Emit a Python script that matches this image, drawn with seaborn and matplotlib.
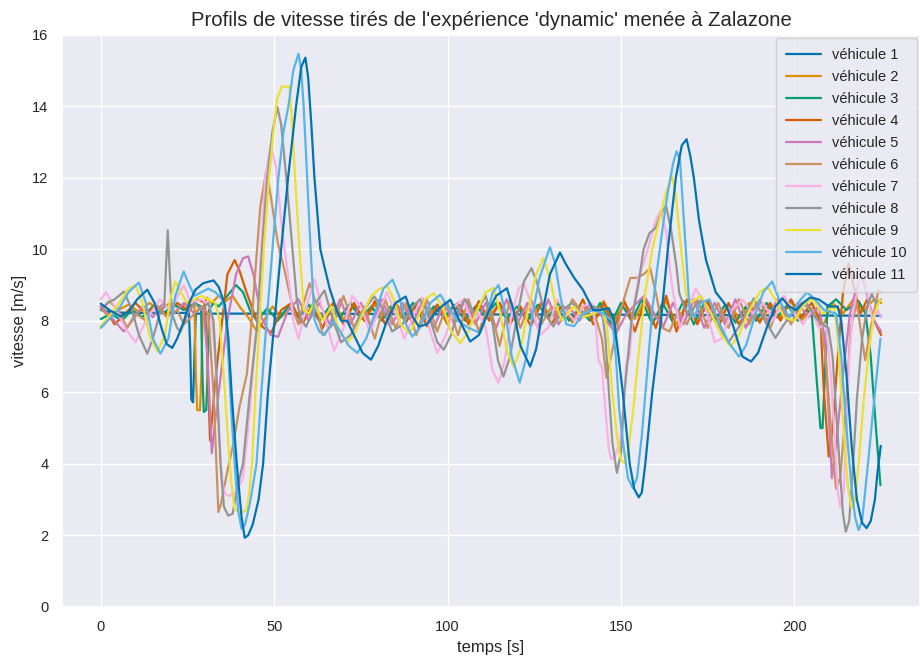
import matplotlib
matplotlib.use("Agg")
import matplotlib.pyplot as plt
import seaborn as sns
import pandas as pd

# (time [s], speed [m/s]) samples, one list per vehicle
veh1 = [(0, 8.3), (3, 8.24), (8, 8.22), (25.4, 8.22), (25.8, 7.2), (26.1, 5.8), (26.6, 5.72),
        (27.0, 7.0), (27.4, 8.2), (60, 8.2), (100, 8.18), (150, 8.17), (200, 8.15), (225, 8.14)]

veh2 = [(0, 8.3), (2.5, 8.55), (5, 8.3), (8, 8.45), (11, 8.25), (14, 8.5), (17, 8.3), (20, 8.5),
        (23, 8.35), (25.5, 8.55), (27.0, 8.4), (27.4, 6.5), (27.8, 5.5), (28.6, 5.5), (29.0, 6.5),
        (29.4, 8.3), (30.5, 8.65), (32, 8.5), (34, 8.7), (36, 8.55), (38, 8.7), (40, 8.4),
        (42.5, 8.1), (45, 7.7), (47, 8.0), (49.5, 8.4), (52, 8.1), (55, 8.4), (58, 8.0),
        (61, 8.45), (64, 8.1), (67, 8.5), (70, 8.05), (73, 8.4), (76, 8.0), (79, 8.45), (82, 8.1),
        (85, 8.5), (88, 8.1), (91, 8.4), (94, 8.0), (97, 8.45), (100, 8.1), (103, 8.5), (106, 8.0),
        (109, 8.4), (112, 8.1), (115, 8.5), (118, 8.0), (121, 8.35), (124, 8.05), (127, 8.5),
        (130, 8.1), (133, 8.45), (136, 7.95), (139, 8.4), (142, 8.05), (145, 8.55), (148, 8.0),
        (151, 8.5), (154, 8.05), (157, 8.6), (160, 8.1), (163, 8.55), (166, 7.9), (169, 8.45),
        (172, 7.95), (175, 8.5), (178, 8.0), (181, 8.45), (184, 8.1), (187, 8.5), (190, 8.0),
        (193, 8.4), (196, 8.1), (199, 8.55), (202, 8.0), (205, 8.35), (208, 7.8), (211, 8.5),
        (214, 8.2), (217, 8.6), (220, 8.3), (223, 8.6), (225, 8.5)]

veh3 = [(0, 8.05), (3, 8.2), (6, 8.0), (9, 8.3), (12, 8.1), (15, 8.4), (18, 8.2), (21, 8.45),
        (24, 8.3), (27, 8.5), (28.9, 8.4), (29.3, 6.5), (29.7, 5.45), (30.4, 5.5), (30.8, 6.5),
        (31.2, 8.3), (32.5, 8.5), (34, 8.4), (36.5, 8.7), (39, 9.0), (41, 8.8), (43, 8.3),
        (45, 8.0), (48, 8.35), (51, 8.0), (54, 8.4), (57, 8.1), (60, 8.45), (63, 8.0), (66, 8.4),
        (69, 8.1), (72, 8.5), (75, 8.05), (78, 8.4), (81, 8.0), (84, 8.45), (87, 8.1), (90, 8.5),
        (93, 8.0), (96, 8.4), (99, 8.1), (102, 8.45), (105, 8.0), (108, 8.4), (111, 8.15),
        (114, 8.5), (117, 8.05), (120, 8.4), (123, 8.0), (126, 8.45), (129, 8.1), (132, 8.5),
        (135, 8.0), (138, 8.35), (141, 8.0), (144, 8.5), (147, 7.9), (150, 8.5), (153, 8.0),
        (156, 8.6), (159, 7.9), (162, 8.5), (165, 7.95), (168, 8.55), (171, 7.9), (174, 8.5),
        (177, 8.0), (180, 8.45), (183, 7.95), (186, 8.4), (189, 8.0), (192, 8.5), (195, 8.1),
        (198, 8.45), (201, 8.0), (203.5, 8.3), (205, 8.2), (206.3, 6.5), (207.5, 5.0),
        (208.1, 5.0), (208.8, 6.5), (209.5, 8.4), (212, 8.6), (215, 8.3), (218.5, 8.55),
        (220.5, 8.2), (222, 7.0), (223.5, 5.0), (224.8, 3.4)]

veh4 = [(0, 8.4), (2, 8.2), (4, 7.9), (7, 8.2), (10, 8.5), (13, 8.2), (16, 8.45), (19, 8.15),
        (22, 8.5), (25, 8.3), (28, 8.6), (30, 8.5), (30.7, 7.0), (31.5, 4.65), (32.3, 5.5),
        (33.2, 6.5), (35, 8.0), (36.5, 9.3), (38.6, 9.7), (40, 9.4), (42, 8.8), (45, 8.0),
        (47, 7.8), (49.2, 7.67), (52, 8.3), (55, 8.5), (58, 7.9), (61, 8.4), (64, 7.8), (67, 8.5),
        (70, 7.9), (73, 8.5), (76, 8.0), (79, 8.55), (82, 7.9), (85, 8.4), (88, 7.95), (91, 8.5),
        (94, 7.85), (97, 8.45), (100, 7.9), (103, 8.5), (106, 7.9), (109, 8.55), (112, 8.0),
        (115, 8.5), (118, 7.9), (121, 8.4), (124, 7.85), (127, 8.5), (130, 7.9), (133, 8.45),
        (136, 8.0), (139, 8.6), (142, 7.9), (145, 8.5), (148, 7.8), (151, 8.55), (154, 7.7),
        (157, 8.6), (160, 7.8), (163, 8.7), (166, 7.7), (169, 8.6), (172, 7.9), (175, 8.55),
        (178, 7.8), (181, 8.5), (184, 7.9), (187, 8.4), (190, 7.95), (193, 8.5), (196, 8.0),
        (199, 8.6), (202, 8.1), (205, 8.5), (207.5, 8.0), (208.5, 6.0), (209.9, 4.2), (211, 5.0),
        (212.5, 7.0), (214, 8.8), (215.6, 9.6), (217, 9.0), (219, 8.2), (221, 8.6), (223, 8.0),
        (225, 7.6)]

veh5 = [(0, 8.4), (3, 8.1), (6.6, 7.7), (9, 8.0), (12, 8.4), (15, 8.1), (18, 8.5), (21, 8.2),
        (24, 8.5), (27, 8.2), (29.5, 8.4), (30.8, 7.0), (32, 4.3), (33, 5.2), (34, 6.0),
        (36.5, 8.0), (39, 9.3), (41, 9.75), (42.5, 9.8), (44, 9.3), (46.3, 8.1), (49, 7.6),
        (51.1, 7.55), (54, 8.3), (57, 8.6), (60, 8.0), (63, 8.5), (66, 7.9), (69, 8.6), (72, 7.9),
        (75, 8.5), (78, 7.8), (81, 8.6), (84, 7.9), (87, 8.5), (90, 7.9), (93, 8.6), (96, 7.8),
        (99, 8.5), (102, 7.9), (105, 8.6), (108, 7.9), (111, 8.5), (114, 7.8), (117, 8.6),
        (120, 7.9), (123, 8.5), (126, 7.8), (129, 8.6), (132, 7.9), (135, 8.4), (138, 8.0),
        (141, 8.5), (144, 8.2), (146.5, 7.9), (148.6, 7.65), (151, 8.1), (153.5, 8.4),
        (156.7, 8.7), (159, 8.3), (162, 7.8), (165, 8.5), (168, 7.9), (171, 8.6), (174, 7.8),
        (177, 8.5), (180, 7.9), (183, 8.6), (186, 7.8), (189, 8.5), (192, 7.9), (195, 8.6),
        (198, 8.0), (201, 8.5), (204, 8.1), (207, 8.4), (208.8, 7.5), (209.8, 5.5), (210.8, 3.6),
        (212, 4.5), (214, 6.5), (216, 8.2), (217.8, 8.9), (219.4, 9.25), (221, 8.7), (223, 8.0),
        (225, 7.7)]

veh6 = [(0, 8.35), (2.5, 8.1), (5, 8.3), (7.6, 7.8), (10, 8.2), (13, 8.0), (16, 8.45), (19, 8.1),
        (22, 8.3), (24, 7.9), (27, 8.2), (29, 8.4), (31, 8.2), (32.5, 6.0), (33.9, 2.65),
        (34.7, 2.9), (36.5, 3.8), (38.3, 4.6), (40, 5.6), (42.1, 6.5), (43.5, 8.0), (44.5, 9.3),
        (46, 11.2), (47.7, 12.2), (49, 11.5), (51, 10.2), (53, 9.4), (54, 8.95), (55.5, 8.3),
        (57, 7.9), (58.5, 8.5), (60.2, 9.05), (62, 8.5), (64, 7.6), (67, 7.9), (70, 8.7),
        (73, 7.8), (76, 8.4), (79, 7.5), (82, 8.6), (85, 7.8), (88, 8.5), (91, 7.6), (94, 8.6),
        (97, 7.7), (100, 8.5), (103, 7.6), (106, 8.6), (109, 7.7), (112, 8.5), (115, 7.3),
        (118, 8.6), (121, 7.8), (124, 8.6), (127, 7.9), (130, 8.4), (133, 8.0), (136, 8.6),
        (139, 8.2), (141.5, 8.4), (143, 8.0), (144.5, 7.5), (145.8, 6.4), (148, 7.4), (150.5, 8.5),
        (152.7, 9.2), (154.6, 9.2), (156.5, 9.3), (158.4, 9.47), (160, 8.8), (162, 7.8),
        (164, 7.7), (166.5, 8.3), (169, 7.9), (172, 8.6), (175, 7.8), (178, 8.5), (181, 7.8),
        (184, 8.6), (187, 7.9), (190, 8.6), (193, 7.8), (196, 8.5), (199, 7.9), (202, 8.5),
        (205, 8.3), (207.5, 7.9), (209, 7.0), (210.5, 5.0), (212, 3.3), (213.2, 3.6),
        (214.8, 5.5), (216.2, 7.8), (218, 8.5), (219.3, 7.6), (220.4, 6.9), (222, 7.8),
        (224.2, 8.85), (225, 8.8)]

veh7 = [(0, 8.6), (1.5, 8.8), (4, 8.4), (7, 7.8), (10, 7.4), (13, 8.0), (17, 8.6), (20, 8.3),
        (23.9, 9.0), (26, 8.5), (29, 8.6), (31.5, 8.4), (33, 7.0), (34, 5.0), (35, 3.5),
        (35.9, 3.15), (37, 3.1), (39, 3.2), (41, 3.6), (43, 5.5), (44.5, 7.5), (45.3, 8.0),
        (46.2, 10.0), (47.4, 12.0), (49, 12.93), (50.5, 12.3), (52, 10.8), (53, 10.0),
        (54.5, 8.9), (55.5, 8.0), (57, 7.5), (59, 8.3), (61.6, 9.16), (64, 8.3), (67.3, 7.16),
        (70, 7.8), (72.5, 8.7), (75, 8.4), (77.5, 7.7), (80, 8.2), (82.5, 8.8), (85, 8.2),
        (87.5, 7.5), (90, 8.1), (92.5, 8.65), (95, 7.7), (97, 7.1), (99.5, 7.6), (102, 8.4),
        (104.5, 8.6), (107, 8.0), (109, 8.2), (111, 7.8), (113, 6.6), (114.7, 6.27), (116.5, 6.9),
        (118.5, 8.2), (120.5, 8.9), (122, 9.05), (124, 8.5), (126.5, 7.6), (129, 7.8),
        (131.5, 8.6), (134, 8.3), (136.5, 8.0), (139, 8.4), (141.5, 8.5), (142.8, 7.8),
        (143.5, 6.9), (144.5, 6.7), (145.5, 5.5), (146.5, 4.4), (147.2, 4.13), (148.2, 4.2),
        (149.7, 4.6), (151, 6.0), (151.5, 6.8), (152.5, 7.0), (153.4, 8.2), (155, 9.2),
        (156.5, 9.6), (158, 10.1), (160, 10.8), (161.5, 11.1), (163, 10.5), (164, 9.5),
        (165, 8.8), (167, 7.8), (169, 8.3), (171.5, 8.9), (174, 8.5), (177, 7.4), (179, 7.5),
        (182, 8.3), (185, 8.6), (188, 8.2), (191, 8.5), (194, 8.0), (197, 8.7), (200, 8.2),
        (202.5, 7.9), (205, 8.3), (207, 7.8), (209, 7.9), (210.5, 6.5), (211.7, 4.5),
        (212.5, 3.2), (213.2, 2.8), (214.2, 3.2), (215, 5.0), (215.8, 7.0), (216.8, 8.2),
        (218.5, 9.0), (219.8, 9.5), (221, 8.8), (222.5, 8.0), (224, 8.3), (225, 8.1)]

veh8 = [(0, 8.3), (2, 8.5), (4, 8.6), (6.7, 8.82), (9, 8.3), (11, 7.6), (13.4, 7.08), (15, 7.5),
        (17, 8.2), (18.3, 8.4), (18.8, 9.5), (19.3, 10.53), (19.8, 9.5), (20.5, 8.2), (22, 7.8),
        (23, 7.7), (25, 8.2), (27, 8.5), (29, 8.3), (31, 8.5), (32.5, 8.0), (33.5, 6.2),
        (34.5, 4.0), (35.5, 2.8), (36.7, 2.55), (38, 2.6), (39.5, 3.4), (41, 4.0), (43, 6.0),
        (45, 7.8), (46.5, 10.0), (48, 12.0), (49.5, 13.3), (50.9, 13.98), (52, 13.5),
        (53.5, 12.0), (55, 10.3), (56.5, 8.6), (57.5, 8.1), (59.2, 7.83), (62, 8.5), (64.5, 8.85),
        (67, 8.0), (69.3, 7.4), (72, 7.6), (75, 8.2), (78.8, 8.68), (81, 8.4), (84, 7.7),
        (87, 7.9), (90, 8.4), (92, 8.6), (94.5, 8.2), (97, 7.4), (98.9, 7.19), (101, 7.6),
        (103, 8.3), (105, 8.6), (108, 8.2), (111, 8.7), (113, 7.9), (114.5, 6.9), (116.1, 6.44),
        (118, 7.0), (120, 8.1), (122, 9.1), (124.2, 9.47), (126, 9.0), (128, 8.2), (130.5, 7.84),
        (133, 8.3), (136, 8.5), (139, 8.1), (142, 8.4), (144.5, 8.3), (145.5, 7.5), (146.5, 6.0),
        (147.5, 4.6), (148.8, 3.75), (150, 4.3), (151, 6.0), (152, 7.0), (153, 8.0), (155, 9.0),
        (156.5, 10.0), (158.2, 10.45), (160, 10.6), (161.5, 11.0), (163, 11.22), (164.5, 10.5),
        (166, 9.5), (166.8, 8.77), (169, 8.2), (173.5, 8.6), (177, 8.0), (181, 7.4),
        (184.5, 7.9), (188.3, 8.63), (191, 8.1), (194.5, 7.52), (197, 7.9), (200, 8.3),
        (203.2, 8.55), (206, 8.1), (208, 7.9), (209.8, 7.8), (211, 7.0), (212, 5.5), (213, 4.0),
        (214, 2.6), (214.8, 2.1), (215.8, 2.4), (216.8, 3.8), (218, 5.8), (219.5, 7.5),
        (221, 8.4), (222.3, 8.75), (223.5, 8.5), (225, 8.6)]

veh9 = [(0, 7.85), (3, 8.2), (6, 8.6), (8, 8.9), (10, 9.0), (12, 8.5), (14, 7.6), (16.3, 7.14),
        (18.5, 7.6), (20, 8.6), (21.5, 9.1), (23, 8.8), (25, 8.5), (27, 8.6), (29, 8.7),
        (31, 8.6), (33, 8.5), (34.3, 8.0), (35, 7.0), (35.8, 6.0), (36.6, 4.8), (37.5, 3.6),
        (38.5, 2.75), (40, 2.62), (42, 2.7), (42.8, 3.2), (43.6, 4.0), (44.6, 6.0), (45.8, 8.0),
        (47, 10.0), (48.5, 12.0), (50, 13.5), (50.8, 14.2), (52.2, 14.55), (54.4, 14.55),
        (55.2, 13.5), (56, 12.0), (57.3, 10.0), (58.5, 8.3), (60, 8.2), (61.5, 8.5), (64, 8.0),
        (66.5, 8.4), (68.5, 7.8), (71, 7.4), (73, 7.6), (75.5, 8.2), (78, 8.7), (80.5, 8.9),
        (82.6, 8.96), (84.5, 8.6), (86.5, 7.9), (88.9, 7.66), (91, 8.0), (93.5, 8.6), (96, 8.77),
        (98.5, 8.4), (101, 7.7), (103.7, 7.38), (106, 7.7), (108.5, 8.3), (111, 8.8),
        (113.2, 8.92), (115, 8.3), (117, 7.2), (119, 6.72), (121, 7.2), (123, 8.2), (125.5, 9.3),
        (127.6, 9.76), (129.5, 9.2), (131, 8.5), (133, 8.0), (136.4, 8.4), (139, 8.1),
        (142, 8.2), (144.5, 8.3), (146, 7.8), (147.5, 6.0), (149, 4.6), (150, 4.1), (151, 4.02),
        (152, 4.3), (153.5, 5.5), (155, 7.0), (157, 8.8), (159, 10.0), (161, 10.8), (163, 11.6),
        (164.7, 12.04), (165.8, 11.5), (167, 10.3), (168.7, 8.77), (170, 8.5), (173, 8.7),
        (176, 8.2), (179, 7.6), (181.6, 7.28), (184, 7.6), (187, 8.3), (190, 8.8),
        (192.2, 8.95), (194.5, 8.6), (197, 8.1), (200, 8.0), (203, 8.5), (205.5, 8.6),
        (208, 8.2), (211.5, 8.4), (212.5, 7.5), (213.5, 6.0), (214.5, 4.5), (215.5, 3.3),
        (216.5, 2.76), (217.5, 3.0), (218.5, 4.0), (220, 5.8), (221.5, 7.2), (223, 8.2),
        (224.8, 8.6)]

veh10 = [(0, 7.8), (2, 8.0), (5, 8.3), (8, 8.8), (11, 9.07), (13, 8.5), (15, 7.5), (17.2, 7.08),
         (19.5, 7.5), (21.5, 8.7), (23.9, 9.38), (25.5, 9.0), (27, 8.7), (29, 8.8), (31, 8.9),
         (33, 8.8), (35, 8.6), (36, 8.2), (36.8, 7.0), (37.6, 5.5), (38.6, 4.0), (39.6, 2.7),
         (40.6, 2.18), (41.6, 2.3), (43, 2.9), (44.9, 4.0), (46.3, 6.0), (47.8, 8.0), (49.5, 10.0),
         (51.2, 12.0), (52.7, 13.3), (54.1, 14.0), (55.5, 15.0), (57, 15.47), (57.8, 15.0),
         (58.5, 14.0), (59.5, 12.0), (60.5, 10.0), (61.6, 8.03), (63, 7.7), (64.5, 7.6), (67, 8.0),
         (69, 7.7), (71.5, 7.3), (74, 7.1), (76.5, 7.5), (79, 8.2), (81.5, 8.9), (84.1, 9.15),
         (86, 8.7), (88, 7.9), (89.8, 7.56), (92, 7.8), (95, 8.5), (97.9, 8.73), (100, 8.4),
         (103, 8.0), (106, 7.8), (109.4, 7.66), (111.5, 8.2), (113, 8.8), (114.7, 9.0),
         (116.5, 8.3), (118.5, 7.0), (120.8, 6.27), (122.5, 6.9), (124.5, 8.2), (126.5, 9.2),
         (129.5, 10.06), (131, 9.6), (132.5, 8.7), (134.2, 7.9), (136.5, 7.85), (139, 8.2),
         (142, 8.3), (145, 8.2), (147.5, 8.0), (148.5, 7.0), (149.5, 5.5), (150.7, 4.5),
         (152, 3.6), (153.4, 3.32), (154.6, 3.6), (156, 4.8), (157.5, 6.5), (159, 8.3),
         (160.5, 9.5), (162, 10.6), (163.5, 11.6), (165, 12.4), (166, 12.74), (167, 12.5),
         (168, 11.0), (169, 9.5), (169.7, 8.4), (171, 8.1), (173, 8.5), (175.5, 8.6), (178, 8.0),
         (181, 7.4), (184, 7.0), (186, 7.3), (188.5, 8.1), (191, 8.8), (193.6, 9.1), (196, 8.5),
         (198.5, 8.1), (201, 8.5), (203.6, 8.8), (206, 8.6), (208.5, 8.3), (212, 8.2),
         (213.5, 7.0), (215, 5.0), (216.5, 3.3), (217.5, 2.5), (218.5, 2.15), (219.5, 2.4),
         (221, 3.8), (222.5, 5.3), (224.8, 7.5)]

veh11 = [(0, 8.48), (2.5, 8.3), (5.7, 8.12), (8, 8.25), (10.5, 8.6), (13.4, 8.87), (15.5, 8.5),
         (17.5, 7.8), (19, 7.35), (20.6, 7.24), (22, 7.5), (24, 8.0), (25.5, 8.5), (27.3, 8.87),
         (29.5, 9.05), (32.5, 9.13), (34, 8.95), (35.8, 8.44), (36.8, 7.5), (37.7, 6.0),
         (39.2, 4.0), (40.6, 2.5), (41.5, 1.93), (42.5, 2.0), (43.8, 2.3), (45.5, 3.0),
         (46.8, 4.0), (48.2, 6.0), (50.1, 8.0), (52, 10.0), (54, 12.0), (56.3, 14.0),
         (57.8, 15.1), (59, 15.36), (59.8, 14.8), (60.7, 13.5), (61.6, 12.0), (63.3, 10.0),
         (64.5, 9.5), (66, 8.9), (68, 8.3), (69.3, 8.0), (71, 8.0), (73, 7.6), (75.5, 7.1),
         (77.9, 6.91), (80, 7.3), (82.5, 8.0), (85, 8.5), (87.9, 8.68), (90, 8.1), (91.7, 7.84),
         (94, 7.9), (97, 8.3), (100.8, 8.59), (103, 8.1), (106.5, 7.42), (109, 7.6), (111.5, 8.2),
         (114, 8.7), (117.1, 8.91), (119, 8.3), (121, 7.3), (123.8, 6.72), (125.5, 7.2),
         (127.5, 8.3), (129.5, 9.3), (132.4, 9.91), (134, 9.6), (136.5, 9.2), (139, 8.87),
         (142, 8.3), (144, 8.3), (146.5, 8.35), (148, 8.0), (149.3, 7.0), (150.5, 6.0),
         (152.5, 4.0), (153.8, 3.3), (155.1, 3.06), (156, 3.2), (157, 4.0), (159, 6.0),
         (161.5, 8.0), (163.5, 10.0), (165.8, 12.0), (167.5, 12.9), (168.9, 13.08), (170, 12.6),
         (171, 12.0), (172.5, 10.8), (174.5, 9.7), (177.3, 8.8), (180.5, 8.4), (182.5, 7.8),
         (185, 7.0), (187.5, 6.86), (189.5, 7.1), (192, 7.8), (194.5, 8.4), (196.5, 8.63),
         (198.5, 8.4), (200.5, 8.3), (202.5, 8.5), (204.5, 8.65), (207, 8.6), (210, 8.4),
         (212.5, 8.4), (213.5, 8.0), (215, 6.5), (216.5, 4.5), (218, 3.0), (219.5, 2.35),
         (220.8, 2.2), (222, 2.4), (223.2, 3.0), (224, 3.8), (224.9, 4.5)]

vehicles = [veh1, veh2, veh3, veh4, veh5, veh6, veh7, veh8, veh9, veh10, veh11]
labels = [f"véhicule {i}" for i in range(1, 12)]

sns.set_theme(style="darkgrid")
plt.rcParams["font.family"] = ["Liberation Sans", "DejaVu Sans"]

pal = sns.color_palette("colorblind", 10)
colors = [pal[i % 10] for i in range(len(vehicles))]

fig, ax = plt.subplots(figsize=(9.22, 6.56), dpi=100)
for data, lab, col in zip(vehicles, labels, colors):
    df = pd.DataFrame(data, columns=["temps", "vitesse"])
    sns.lineplot(data=df, x="temps", y="vitesse", ax=ax, color=col, label=lab,
                 linewidth=1.6, estimator=None, sort=False)

ax.set_ylim(0, 16)
ax.set_yticks(range(0, 17, 2))
ax.tick_params(labelsize=10.5)
ax.set_xlabel("temps [s]", fontsize=12)
ax.set_ylabel("vitesse [m/s]", fontsize=12)
ax.set_title("Profils de vitesse tirés de l'expérience 'dynamic' menée à Zalazone", fontsize=14.6)
ax.legend(loc="upper right", fontsize=10.5, borderaxespad=0.2, borderpad=0.7,
          handlelength=2.4, labelspacing=0.55)

fig.subplots_adjust(left=0.067, right=0.998, top=0.947, bottom=0.075)
fig.savefig("out.png", dpi=100)
